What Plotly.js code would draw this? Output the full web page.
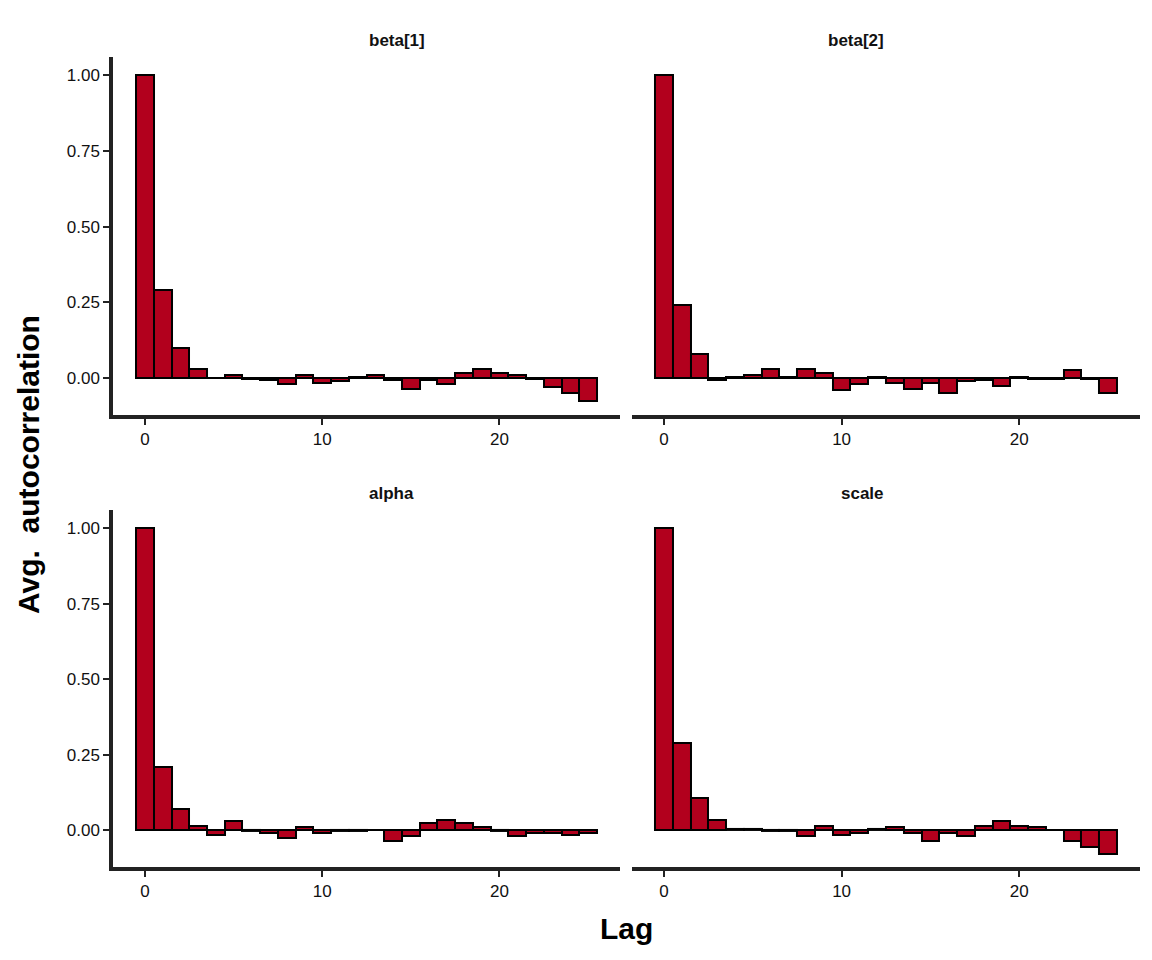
<!DOCTYPE html>
<html><head><script src="https://cdn.plot.ly/plotly-3.0.1.min.js"></script>
<style>body{margin:0}</style></head><body><div id="c" style="width:1152px;height:960px"></div>
<script>
const lags=[...Array(26).keys()];
const names=["beta[1]","beta[2]","alpha","scale"];
const beta1=[1.00,0.29,0.10,0.03,0.00,0.01,-0.003,-0.005,-0.02,0.01,-0.015,-0.01,0.005,0.01,-0.005,-0.035,-0.005,-0.02,0.015,0.03,0.015,0.01,-0.002,-0.03,-0.05,-0.075];
const beta2=[1.00,0.24,0.08,-0.005,0.003,0.01,0.03,0.005,0.03,0.015,-0.04,-0.02,0.003,-0.015,-0.035,-0.015,-0.05,-0.01,-0.005,-0.025,0.002,-0.002,-0.003,0.025,-0.002,-0.05];
const alpha=[1.00,0.21,0.07,0.015,-0.015,0.03,-0.003,-0.01,-0.025,0.01,-0.01,-0.003,-0.002,0.002,-0.035,-0.02,0.025,0.035,0.025,0.01,-0.002,-0.02,-0.01,-0.01,-0.015,-0.01];
const scale=[1.00,0.29,0.105,0.035,0.003,0.005,-0.002,-0.003,-0.02,0.015,-0.015,-0.01,0.005,0.01,-0.01,-0.035,-0.01,-0.02,0.015,0.03,0.015,0.01,0.0,-0.035,-0.055,-0.08];
const series=[beta1,beta2,alpha,scale];
const xd=[[0.0981,0.5382],[0.5486,0.9896]];
const yd=[[0.5677,0.9406],[0.0969,0.4688]];
const traces=[];const layout={width:1152,height:960,margin:{l:0,r:0,t:0,b:0},showlegend:false,
 paper_bgcolor:"#fff",plot_bgcolor:"#fff",bargap:0,font:{family:"Liberation Sans, Arial, sans-serif",color:"#222"},annotations:[]};
series.forEach((s,i)=>{
 const n=i+1,col=i%2,row=Math.floor(i/2);
 traces.push({type:"bar",x:lags,y:s,width:1,xaxis:"x"+(n>1?n:""),yaxis:"y"+(n>1?n:""),
  marker:{color:"#b2001d",line:{color:"#000",width:2}},hoverinfo:"x+y"});
 layout["xaxis"+(n>1?n:"")]={domain:xd[col],anchor:"y"+(n>1?n:""),range:[-1.8,26.8],tickvals:[0,10,20],
  showgrid:false,zeroline:false,showline:true,linecolor:"#222",linewidth:3.5,ticks:"outside",ticklen:6,tickwidth:1.5,tickcolor:"#222",tickfont:{size:17,color:"#111"}};
 layout["yaxis"+(n>1?n:"")]={domain:yd[row],anchor:"x"+(n>1?n:""),range:[-0.122,1.06],tickvals:[0,0.25,0.5,0.75,1],
  ticktext:["0.00","0.25","0.50","0.75","1.00"],showticklabels:col===0,showgrid:false,zeroline:false,
  showline:col===0,linecolor:"#222",linewidth:3.5,ticks:col===0?"outside":"",ticklen:6,tickwidth:1.5,tickcolor:"#222",tickfont:{size:17,color:"#111"}};
 layout.annotations.push({text:"<b>"+names[i]+"</b>",xref:"paper",yref:"paper",x:(xd[col][0]+xd[col][1])/2,y:yd[row][1]+0.005,
  yanchor:"bottom",showarrow:false,font:{size:17,color:"#111"}});
});
layout.annotations.push({text:"<b>Lag</b>",xref:"paper",yref:"paper",x:0.544,y:1-928/960,yanchor:"middle",showarrow:false,font:{size:30,color:"#000"}});
layout.annotations.push({text:"<b>Avg.  autocorrelation</b>",xref:"paper",yref:"paper",x:28/1152,y:1-465/960,textangle:-90,xanchor:"center",yanchor:"middle",showarrow:false,font:{size:30,color:"#000"}});
Plotly.newPlot("c",traces,layout,{displayModeBar:false});
</script></body></html>
